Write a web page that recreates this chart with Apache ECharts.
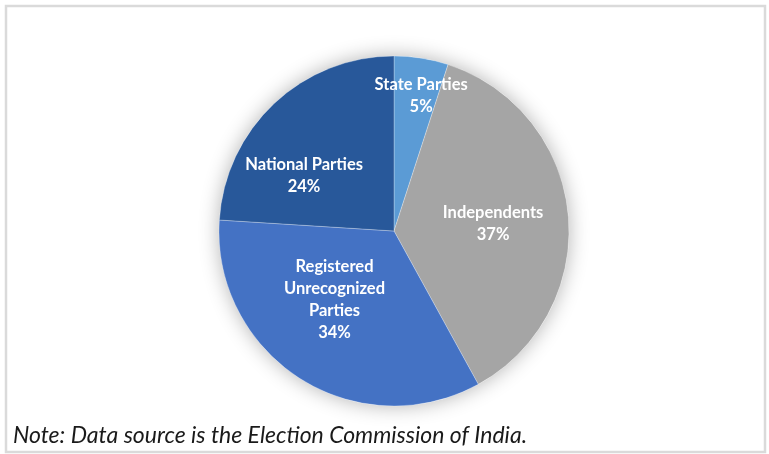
<!DOCTYPE html>
<html>
<head>
<meta charset="utf-8">
<script src="https://cdn.jsdelivr.net/npm/echarts@6/dist/echarts.min.js"></script>
<style>
  html, body { margin: 0; padding: 0; background: #ffffff; }
  #chart { width: 769px; height: 454px; }
</style>
</head>
<body>
<div id="chart"></div>
<script>
// Share of candidates by party type
const categories = ['State Parties', 'Independents', 'Registered\nUnrecognized\nParties', 'National Parties'];
const shares = [5, 37, 34, 24];
const sliceColors = ['#5b9bd5', '#a5a5a5', '#4472c4', '#28589a'];
// Nudges from the default inside-label spot, in pixels
const labelNudges = [[13, -46], [9, 1], [-11, -8], [-28, 11]];
const noteText = 'Note: Data source is the Election Commission of India.';

const center = [394, 231];
const radius = 175;

const chart = echarts.init(document.getElementById('chart'), null, { renderer: 'canvas' });

chart.setOption({
  backgroundColor: '#ffffff',
  animation: false,
  graphic: [
    {
      type: 'rect',
      shape: { x: 6, y: 6, width: 759, height: 446 },
      style: { fill: 'none', stroke: '#dadada', lineWidth: 2.5 },
      z: 0
    },
    {
      type: 'text',
      x: 13,
      y: 436,
      style: {
        text: noteText,
        font: 'italic 23px Lato',
        fill: '#1a1a1a',
        verticalAlign: 'middle'
      },
      z: 10
    }
  ],
  series: [
    {
      // soft glow behind the pie
      type: 'pie',
      silent: true,
      center: center,
      radius: radius,
      label: { show: false },
      labelLine: { show: false },
      itemStyle: {
        color: '#ffffff',
        shadowBlur: 20,
        shadowColor: 'rgba(0,0,0,0.3)'
      },
      data: [{ value: 1 }],
      z: 1
    },
    {
      type: 'pie',
      center: center,
      radius: radius,
      startAngle: 90,
      clockwise: true,
      z: 2,
      itemStyle: { borderColor: 'rgba(255,255,255,0.35)', borderWidth: 0.8 },
      label: {
        show: true,
        position: 'inside',
        color: '#ffffff',
        fontFamily: 'Lato',
        fontWeight: 'bold',
        fontSize: 16.5,
        lineHeight: 22,
        align: 'center',
        formatter: p => p.name + '\n' + p.value + '%'
      },
      labelLine: { show: false },
      data: categories.map((name, i) => ({
        name: name,
        value: shares[i],
        itemStyle: { color: sliceColors[i] },
        label: { offset: labelNudges[i] }
      }))
    }
  ]
});
</script>
</body>
</html>
